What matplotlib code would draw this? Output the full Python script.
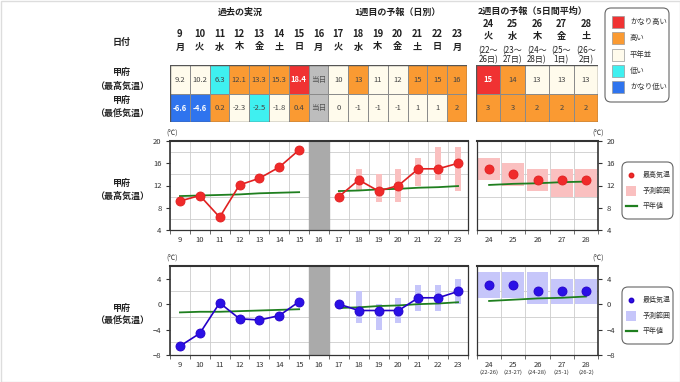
import numpy as np
import matplotlib.pyplot as plt
from matplotlib.patches import Rectangle, FancyBboxPatch
from matplotlib.lines import Line2D
import matplotlib.transforms as mtransforms

plt.rcParams['font.family'] = ['Noto Sans CJK JP', 'DejaVu Sans']

# ---- data ----
days_w1 = list(range(9, 24))          # table columns, week 1 side
weekday_w1 = ['月', '火', '水', '木', '金', '土', '日', '月', '火', '水', '木', '金', '土', '日', '月']
days_w2 = [24, 25, 26, 27, 28]
weekday_w2 = ['火', '水', '木', '金', '土']
span_w2 = ['(22～\n26日)', '(23～\n27日)', '(24～\n28日)', '(25～\n1日)', '(26～\n2日)']
span_w2_short = ['(22-26)', '(23-27)', '(24-28)', '(25-1)', '(26-2)']

# table text and class (vh=かなり高い h=高い n=平年並 l=低い vl=かなり低い t=当日)
tmax_text = ['9.2', '10.2', '6.3', '12.1', '13.3', '15.3', '18.4', '当日',
             '10', '13', '11', '12', '15', '15', '16']
tmax_class = ['n', 'n', 'l', 'h', 'h', 'h', 'vh', 't', 'n', 'h', 'n', 'n', 'h', 'h', 'h']
tmin_text = ['-6.6', '-4.6', '0.2', '-2.3', '-2.5', '-1.8', '0.4', '当日',
             '0', '-1', '-1', '-1', '1', '1', '2']
tmin_class = ['vl', 'vl', 'h', 'n', 'l', 'n', 'h', 't', 'n', 'n', 'n', 'n', 'n', 'n', 'h']
tmax2_text = ['15', '14', '13', '13', '13']
tmax2_class = ['vh', 'h', 'n', 'n', 'n']
tmin2_text = ['3', '3', '2', '2', '2']
tmin2_class = ['h', 'h', 'h', 'h', 'h']

# observed (past) values
days_obs = [9, 10, 11, 12, 13, 14, 15]
max_obs = [9.2, 10.2, 6.3, 12.1, 13.3, 15.3, 18.4]
min_obs = [-6.6, -4.6, 0.2, -2.3, -2.5, -1.8, 0.4]
max_norm_obs = [10.1, 10.2, 10.3, 10.4, 10.6, 10.7, 10.8]
min_norm_obs = [-1.3, -1.2, -1.2, -1.1, -1.0, -0.9, -0.8]

# week 1 daily forecast
days_fc = [17, 18, 19, 20, 21, 22, 23]
max_fc = [10, 13, 11, 12, 15, 15, 16]
min_fc = [0, -1, -1, -1, 1, 1, 2]
max_norm_fc = [11.0, 11.1, 11.3, 11.4, 11.6, 11.7, 11.9]
min_norm_fc = [-0.6, -0.5, -0.3, -0.2, 0.0, 0.1, 0.3]
days_rng = [18, 19, 20, 21, 22, 23]
max_lo = [11, 9, 9, 12, 13, 11]
max_hi = [15, 14, 15, 17, 19, 19]
min_lo = [-3, -4, -3, -1, -1, 0]
min_hi = [2, 0, 1, 3, 3, 4]

# week 2 (5-day mean)
max_w2 = [15, 14, 13, 13, 13]
max_w2_lo = [13, 12, 11, 10, 10]
max_w2_hi = [17, 16, 15, 15, 15]
max_norm_w2 = [12.1, 12.3, 12.4, 12.6, 12.7]
min_w2 = [3, 3, 2, 2, 2]
min_w2_lo = [1, 1, 0, 0, 0]
min_w2_hi = [5, 5, 5, 4, 4]
min_norm_w2 = [0.5, 0.7, 0.9, 1.0, 1.2]

class_color = {'vh': '#f03232', 'h': '#fa9a32', 'n': '#fffbec', 'l': '#3ff0f0',
               'vl': '#2f74ee', 't': '#bdbdbd'}
legend_classes = ['vh', 'h', 'n', 'l', 'vl']
legend_names = ['かなり高い', '高い', '平年並', '低い', 'かなり低い']

W, H = 680, 382
fig = plt.figure(figsize=(W / 100, H / 100), dpi=100)


def px_axes(x, y, w, h):
    return fig.add_axes([x / W, 1 - (y + h) / H, w / W, h / H])


ov = fig.add_axes([0, 0, 1, 1])
ov.set_xlim(0, W)
ov.set_ylim(H, 0)
ov.axis('off')
ov.add_patch(Rectangle((0.5, 0.5), W - 1, H - 1, fill=False, ec='#dddddd', lw=1))

txt = '#222222'
green = '#1f7f1f'

# ---- tables ----
def draw_table(ax, days, rows):
    for r, (texts, classes) in enumerate(rows):
        for d, t, c in zip(days, texts, classes):
            ax.add_patch(Rectangle((d - 0.5, r), 1, 1, fc=class_color[c], ec='#8a8a8a', lw=0.7))
            strong = c in ('vh', 'vl')
            col = 'white' if strong else ('#555555' if c == 't' else '#444444')
            ax.text(d, r + 0.52, t, ha='center', va='center', fontsize=5.5,
                    color=col, fontweight='bold' if strong else 'normal')
    ax.set_xlim(days[0] - 0.5, days[-1] + 0.5)
    ax.set_ylim(2, 0)
    ax.axis('off')
    ax.add_patch(Rectangle((days[0] - 0.5, 0), len(days), 2, fill=False, ec='#555555', lw=1.0))


at1 = px_axes(170, 65, 297, 57)
draw_table(at1, days_w1, [(tmax_text, tmax_class), (tmin_text, tmin_class)])
at2 = px_axes(476, 65, 122, 57)
draw_table(at2, days_w2, [(tmax2_text, tmax2_class), (tmin2_text, tmin2_class)])

tr1 = mtransforms.blended_transform_factory(at1.transData, ov.transData)
tr2 = mtransforms.blended_transform_factory(at2.transData, ov.transData)
for d, w in zip(days_w1, weekday_w1):
    ov.text(d, 34, str(d), transform=tr1, ha='center', va='center', fontsize=6.8, fontweight='bold', color=txt)
    ov.text(d, 47, w, transform=tr1, ha='center', va='center', fontsize=6.6, fontweight='bold', color=txt)
for d, w, s in zip(days_w2, weekday_w2, span_w2):
    ov.text(d, 24, str(d), transform=tr2, ha='center', va='center', fontsize=6.8, fontweight='bold', color=txt)
    ov.text(d, 36, w, transform=tr2, ha='center', va='center', fontsize=6.6, fontweight='bold', color=txt)
    ov.text(d, 55, s, transform=tr2, ha='center', va='center', fontsize=5.8, color=txt, linespacing=1.05)

ov.text(240, 12, '過去の実況', ha='center', va='center', fontsize=6.5, fontweight='bold', color=txt)
ov.text(397, 12, '1週目の予報（日別）', ha='center', va='center', fontsize=6.5, fontweight='bold', color=txt)
ov.text(533, 11, '2週目の予報（5日間平均）', ha='center', va='center', fontsize=6.5, fontweight='bold', color=txt)
ov.text(122, 42, '日付', ha='center', va='center', fontsize=6.5, fontweight='bold', color=txt)
for y0, name in [(72, '（最高気温）'), (100, '（最低気温）')]:
    ov.text(122, y0, '甲府', ha='center', va='center', fontsize=6.5, fontweight='bold', color=txt)
    ov.text(122, y0 + 14, name, ha='center', va='center', fontsize=6.5, fontweight='bold', color=txt)
for y0, name in [(183, '（最高気温）'), (308, '（最低気温）')]:
    ov.text(122, y0, '甲府', ha='center', va='center', fontsize=6.5, fontweight='bold', color=txt)
    ov.text(122, y0 + 13, name, ha='center', va='center', fontsize=6.5, fontweight='bold', color=txt)

# colour legend box
ov.add_patch(FancyBboxPatch((605, 8), 64, 94, boxstyle='round,pad=0,rounding_size=6',
                            fc='white', ec='#666666', lw=0.8))
for i, (c, n) in enumerate(zip(legend_classes, legend_names)):
    yc = 22 + i * 16.3
    ov.add_patch(Rectangle((612, yc - 6), 12, 12, fc=class_color[c], ec='#999999', lw=0.5))
    ov.text(630, yc, n, ha='left', va='center', fontsize=5.3, color='#333333')


# ---- charts ----
def style_axes(ax, ylim, ystep, right=False):
    ax.set_ylim(*ylim)
    ax.set_yticks(np.arange(ylim[0], ylim[1] + 0.1, ystep * 2))
    ax.set_yticks(np.arange(ylim[0], ylim[1] + 0.1, ystep), minor=True)
    lo, hi = ax.get_xlim()
    ax.set_xticks(np.arange(lo, hi + 0.1, 1.0), minor=True)
    ax.grid(True, which='minor', color='#cccccc', lw=0.6)
    ax.grid(False, which='major')
    ax.tick_params(axis='x', which='major', length=0, labelsize=5.5, colors='#333333', pad=4)
    ax.tick_params(axis='x', which='minor', length=3, color='#555555')
    ax.tick_params(axis='y', which='major', length=3, labelsize=5.5, colors='#333333', pad=3,
                   left=not right, labelleft=not right, right=right, labelright=right)
    ax.tick_params(axis='y', which='minor', length=0, left=False, right=False)
    ax.set_axisbelow(True)
    for s in ax.spines.values():
        s.set_color('#333333')
        s.set_linewidth(0.9)
    ax.spines['top'].set_linewidth(1.5)
    ax.spines['left' if not right else 'right'].set_linewidth(1.2)


def chart(y_top, ylim, ystep, obs, norm_obs, fc, norm_fc, lo, hi, w2, w2lo, w2hi, norm_w2,
          line_c, face_c, rng_c, label, sub_labels):
    a1 = px_axes(170, y_top, 298, 89)
    a1.set_xlim(8.5, 23.5)
    a1.axvspan(15.5, 16.5, color='#aaaaaa', zorder=1)
    a1.bar(days_rng, np.array(hi) - np.array(lo), bottom=lo, width=0.3, color=rng_c, zorder=2)
    a1.plot(days_obs, norm_obs, color=green, lw=1.3, zorder=3)
    a1.plot(days_fc, norm_fc, color=green, lw=1.3, zorder=3)
    for xs, ys in [(days_obs, obs), (days_fc, fc)]:
        a1.plot(xs, ys, color=line_c, lw=1.2, marker='o', ms=6.5, mfc=face_c, mec=line_c, mew=0.6, zorder=4)
    a1.set_xticks(days_w1)
    a1.set_xticklabels([str(d) for d in days_w1])
    style_axes(a1, ylim, ystep)
    ov.text(172, y_top - 7, '(℃)', ha='center', va='center', fontsize=5, color='#333333')

    a2 = px_axes(477, y_top, 121, 89)
    a2.set_xlim(23.5, 28.5)
    a2.bar(days_w2, np.array(w2hi) - np.array(w2lo), bottom=w2lo, width=0.9, color=rng_c, zorder=2)
    a2.plot(days_w2, norm_w2, color=green, lw=1.3, zorder=3)
    a2.plot(days_w2, w2, ls='none', marker='o', ms=6.5, mfc=face_c, mec=line_c, mew=0.6, zorder=4)
    a2.set_xticks(days_w2)
    a2.set_xticklabels([str(d) for d in days_w2])
    style_axes(a2, ylim, ystep, right=True)
    ov.text(598, y_top - 7, '(℃)', ha='center', va='center', fontsize=5, color='#333333')
    if sub_labels:
        trx = mtransforms.blended_transform_factory(a2.transData, ov.transData)
        for d, s in zip(days_w2, span_w2_short):
            ov.text(d, y_top + 106, s, transform=trx, ha='center', va='center', fontsize=4.2, color='#333333')

    # legend box
    yb = y_top + 21
    ov.add_patch(FancyBboxPatch((622, yb), 51, 57, boxstyle='round,pad=0,rounding_size=6',
                                fc='white', ec='#666666', lw=0.8))
    ov.add_line(Line2D([631], [yb + 13], marker='o', ms=3.2, mfc=face_c, mec=line_c, ls='none'))
    ov.add_patch(Rectangle((626, yb + 24), 10, 10, fc=rng_c, ec='none'))
    ov.add_line(Line2D([626, 637], [yb + 44, yb + 44], color=green, lw=1.6))
    ov.text(643, yb + 13, label, ha='left', va='center', fontsize=5, color='#333333')
    ov.text(643, yb + 29, '予測範囲', ha='left', va='center', fontsize=5, color='#333333')
    ov.text(643, yb + 44, '平年値', ha='left', va='center', fontsize=5, color='#333333')


chart(141, (4, 20), 2, max_obs, max_norm_obs, max_fc, max_norm_fc, max_lo, max_hi,
      max_w2, max_w2_lo, max_w2_hi, max_norm_w2,
      '#e02020', '#f02a2a', '#fac0c0', '最高気温', False)
chart(266, (-8, 6), 2, min_obs, min_norm_obs, min_fc, min_norm_fc, min_lo, min_hi,
      min_w2, min_w2_lo, min_w2_hi, min_norm_w2,
      '#2400c8', '#2a10e6', '#c6c6fa', '最低気温', True)

fig.savefig('out.png', dpi=100, facecolor='white')
